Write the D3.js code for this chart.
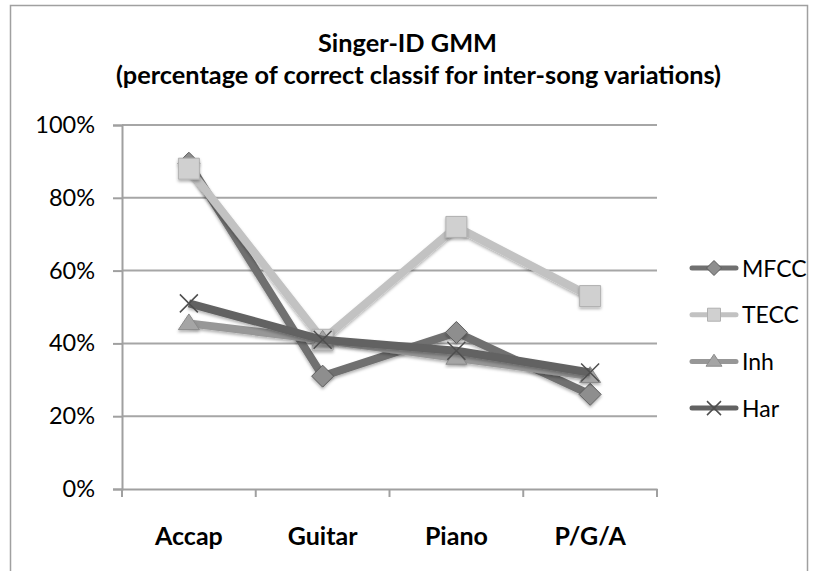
<!DOCTYPE html>
<html>
<head>
<meta charset="utf-8">
<script src="https://cdn.jsdelivr.net/npm/d3@7"></script>
<style>
  body { margin: 0; background: #fff; }
  text { font-family: Lato, "Open Sans", sans-serif; fill: #000; }
</style>
</head>
<body>
<svg id="chart" width="816" height="571"></svg>
<script>
const categories = ["Accap", "Guitar", "Piano", "P/G/A"];
const seriesNames = ["MFCC", "TECC", "Inh", "Har"];
const mfcc = [0.895, 0.31, 0.43, 0.26];
const tecc = [0.88, 0.41, 0.72, 0.53];
const inh = [0.455, 0.41, 0.36, 0.31];
const har = [0.51, 0.41, 0.38, 0.32];
const yTicks = [0, 0.2, 0.4, 0.6, 0.8, 1.0];

const svg = d3.select("#chart");
const plot = { left: 122, right: 657, top: 125, bottom: 489 };

// outer frame
svg.append("rect")
  .attr("x", 10.5).attr("y", 5.5)
  .attr("width", 797).attr("height", 600)
  .attr("fill", "none").attr("stroke", "#a0a0a0").attr("stroke-width", 1.5);

const defs = svg.append("defs");
defs.append("filter").attr("id", "shadow")
  .attr("x", "-30%").attr("y", "-30%").attr("width", "160%").attr("height", "160%")
  .append("feDropShadow")
  .attr("dx", 0).attr("dy", 2).attr("stdDeviation", 1.5)
  .attr("flood-color", "#000").attr("flood-opacity", 0.3);

const x = d3.scaleBand().domain(categories).range([plot.left, plot.right]);
const y = d3.scaleLinear().domain([0, 1]).range([plot.bottom, plot.top]);

// titles
svg.append("text").attr("x", 407.5).attr("y", 52)
  .attr("text-anchor", "middle").attr("font-weight", "bold").attr("font-size", 24.5)
  .attr("textLength", 179).attr("lengthAdjust", "spacingAndGlyphs")
  .text("Singer-ID GMM");
svg.append("text").attr("x", 418.5).attr("y", 84)
  .attr("text-anchor", "middle").attr("font-weight", "bold").attr("font-size", 24)
  .attr("textLength", 605).attr("lengthAdjust", "spacingAndGlyphs")
  .text("(percentage of correct classif for inter-song variations)");

// gridlines
svg.append("g").selectAll("line")
  .data(yTicks.slice(1))
  .join("line")
  .attr("x1", plot.left).attr("x2", plot.right)
  .attr("y1", (d) => y(d)).attr("y2", (d) => y(d))
  .attr("stroke", "#a6a6a6").attr("stroke-width", 2);

// y axis
const yAxis = svg.append("g")
  .attr("transform", "translate(" + plot.left + ",0)")
  .call(d3.axisLeft(y).tickValues(yTicks).tickFormat(d3.format(".0%")).tickSize(9).tickPadding(18));
yAxis.select(".domain").attr("stroke", "#a0a0a0").attr("stroke-width", 2);
yAxis.selectAll(".tick line").attr("stroke", "#a0a0a0").attr("stroke-width", 2);
yAxis.selectAll(".tick text").attr("font-size", 23.5).attr("font-family", "Lato, sans-serif").attr("fill", "#000");

// x axis
const xAxis = svg.append("g")
  .attr("transform", "translate(0," + plot.bottom + ")")
  .call(d3.axisBottom(x).tickSize(0));
xAxis.select(".domain").attr("stroke", "#a0a0a0").attr("stroke-width", 2);
xAxis.selectAll(".tick text")
  .attr("y", 56).attr("dy", 0)
  .attr("font-size", 25).attr("font-weight", "bold")
  .attr("font-family", "Lato, sans-serif").attr("fill", "#000");
xAxis.append("g").selectAll("line")
  .data(d3.range(categories.length + 1))
  .join("line")
  .attr("x1", (i) => plot.left + i * x.step()).attr("x2", (i) => plot.left + i * x.step())
  .attr("y1", 0).attr("y2", 8)
  .attr("stroke", "#a0a0a0").attr("stroke-width", 2);

const series = [
  { name: seriesNames[0], values: mfcc, color: "#707070", fill: "#8e8e8e", stroke: "#5c5c5c", marker: "diamond" },
  { name: seriesNames[1], values: tecc, color: "#c2c2c2", fill: "#d0d0d0", stroke: "#b0b0b0", marker: "square" },
  { name: seriesNames[2], values: inh, color: "#979797", fill: "#a5a5a5", stroke: "#8a8a8a", marker: "triangle" },
  { name: seriesNames[3], values: har, color: "#626262", fill: "none", stroke: "#4e4e4e", marker: "cross" }
];

function markerPath(type, s) {
  if (type === "diamond") return `M0,${-s}L${s},0L0,${s}L${-s},0Z`;
  if (type === "square") return `M${-s},${-s}H${s}V${s}H${-s}Z`;
  if (type === "triangle") return `M0,${-s * 0.9}L${s},${s * 0.6}H${-s}Z`;
  return `M${-s},${-s}L${s},${s}M${s},${-s}L${-s},${s}`;
}
const markerSize = { diamond: 11, square: 10.5, triangle: 10.5, cross: 9 };
const legendSize = { diamond: 7.5, square: 6.5, triangle: 8, cross: 7 };

const line = d3.line()
  .x((d, i) => x(categories[i]) + x.bandwidth() / 2)
  .y((d) => y(d));

series.forEach((s) => {
  const g = svg.append("g");
  g.append("path")
    .attr("d", line(s.values))
    .attr("fill", "none")
    .attr("stroke", s.color)
    .attr("stroke-width", 8)
    .attr("stroke-linejoin", "round")
    .attr("filter", "url(#shadow)");
  g.selectAll("path.marker")
    .data(s.values)
    .join("path")
    .attr("class", "marker")
    .attr("transform", (d, i) => "translate(" + (x(categories[i]) + x.bandwidth() / 2) + "," + y(d) + ")")
    .attr("d", markerPath(s.marker, markerSize[s.marker]))
    .attr("fill", s.fill)
    .attr("stroke", s.stroke)
    .attr("stroke-width", s.marker === "cross" ? 1.5 : 1)
    .attr("filter", s.marker === "cross" ? null : "url(#shadow)");
});

// legend
const legend = svg.append("g").attr("transform", "translate(690,268)");
series.forEach((s, i) => {
  const row = legend.append("g").attr("transform", "translate(0," + i * 46.7 + ")");
  row.append("line")
    .attr("x1", 2).attr("x2", 46)
    .attr("stroke", s.color).attr("stroke-width", 5).attr("stroke-linecap", "round");
  row.append("path")
    .attr("transform", "translate(24,0)")
    .attr("d", markerPath(s.marker, legendSize[s.marker]))
    .attr("fill", s.fill).attr("stroke", s.stroke).attr("stroke-width", s.marker === "cross" ? 1.5 : 1);
  row.append("text")
    .attr("x", 52).attr("y", 8.5)
    .attr("font-size", 23)
    .text(s.name);
});
</script>
</body>
</html>
